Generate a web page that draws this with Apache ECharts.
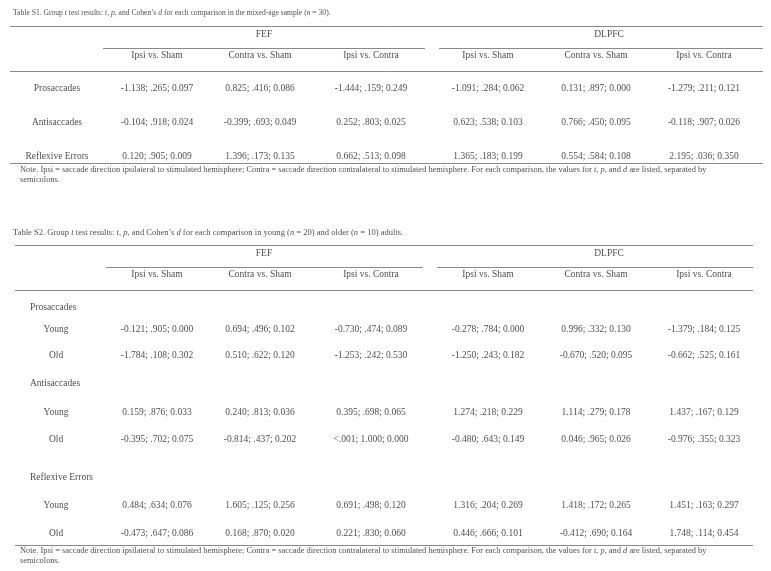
<!DOCTYPE html>
<html>
<head>
<meta charset="utf-8">
<script src="https://cdn.jsdelivr.net/npm/echarts@6/dist/echarts.min.js"></script>
<style>html,body{margin:0;padding:0;background:#fff;}#c{width:771px;height:571px;}</style>
</head>
<body>
<div id="c"></div>
<script>
// ---------- DATA ----------
var regions = ['FEF', 'DLPFC'];
var comparisons = ['Ipsi vs. Sham', 'Contra vs. Sham', 'Ipsi vs. Contra'];
var tasks = ['Prosaccades', 'Antisaccades', 'Reflexive Errors'];
var ageGroups = ['Young', 'Old'];

var s1Title = 'Table S1. Group {i|t} test results: {i|t}, {i|p}, and Cohen\u2019s {i|d} for each comparison in the mixed-age sample ({i|n} = 30).';
var s2Title = 'Table S2. Group {i|t} test results: {i|t}, {i|p}, and Cohen\u2019s {i|d} for each comparison in young ({i|n} = 20) and older ({i|n} = 10) adults.';
var noteLine1 = 'Note. Ipsi = saccade direction ipsilateral to stimulated hemisphere; Contra = saccade direction contralateral to stimulated hemisphere. For each comparison, the values for {i|t}, {i|p}, and {i|d} are listed, separated by';
var noteLine2 = 'semicolons.';

// Table S1: rows = tasks, cols = FEF(3 comparisons) then DLPFC(3 comparisons); "t; p; d"
var s1Prosaccades = ['-1.138; .265; 0.097', '0.825; .416; 0.086', '-1.444; .159; 0.249', '-1.091; .284; 0.062', '0.131; .897; 0.000', '-1.279; .211; 0.121'];
var s1Antisaccades = ['-0.104; .918; 0.024', '-0.399; .693; 0.049', '0.252; .803; 0.025', '0.623; .538; 0.103', '0.766; .450; 0.095', '-0.118; .907; 0.026'];
var s1Reflexive = ['0.120; .905; 0.009', '1.396; .173; 0.135', '0.662; .513; 0.098', '1.365; .183; 0.199', '0.554; .584; 0.108', '2.195; .036; 0.350'];

// Table S2
var s2ProYoung = ['-0.121; .905; 0.000', '0.694; .496; 0.102', '-0.730; .474; 0.089', '-0.278; .784; 0.000', '0.996; .332; 0.130', '-1.379; .184; 0.125'];
var s2ProOld = ['-1.784; .108; 0.302', '0.510; .622; 0.120', '-1.253; .242; 0.530', '-1.250; .243; 0.182', '-0.670; .520; 0.095', '-0.662; .525; 0.161'];
var s2AntiYoung = ['0.159; .876; 0.033', '0.240; .813; 0.036', '0.395; .698; 0.065', '1.274; .218; 0.229', '1.114; .279; 0.178', '1.437; .167; 0.129'];
var s2AntiOld = ['-0.395; .702; 0.075', '-0.814; .437; 0.202', '<.001; 1.000; 0.000', '-0.480; .643; 0.149', '0.046; .965; 0.026', '-0.976; .355; 0.323'];
var s2RefYoung = ['0.484; .634; 0.076', '1.605; .125; 0.256', '0.691; .498; 0.120', '1.316; .204; 0.269', '1.418; .172; 0.265', '1.451; .163; 0.297'];
var s2RefOld = ['-0.473; .647; 0.086', '0.168; .870; 0.020', '0.221; .830; 0.060', '0.446; .666; 0.101', '-0.412; .690; 0.164', '1.748; .114; 0.454'];

// ---------- LAYOUT (axis units = pixels) ----------
var FONT = 'Liberation Serif';
var TXT = '#1a1a1a';
var RULE = '#8a8a8a';
var BODY = 9.5, NOTE = 8.42;
var colX = [157, 260, 371, 488, 596, 704];
var regionX = [264, 609];

var L1 = { title: 13, titleSize: 7.6, top: 26, region: 34, sub: 48, head: 55, mid: 71, rows: [88, 122, 156], bottom: 163, n1: 170, n2: 180,
  left: 10, right: 763, subs: [[103, 425], [439, 763]], labelX: 57 };
var L2 = { title: 233, titleSize: 8.55, top: 245, region: 253, sub: 267, head: 274, mid: 290,
  groups: [307, 383, 477], groupRows: [[329, 355], [412, 439], [505, 533]], bottom: 545, n1: 551, n2: 561,
  left: 15, right: 753, subs: [[106, 423], [437, 753]], groupX: 30, labelX: 56 };

// ---------- BUILD ----------
function rich(size) {
  return {
    r: { fontFamily: FONT, fontSize: size, color: TXT },
    i: { fontFamily: FONT, fontSize: size, color: TXT, fontStyle: 'italic' }
  };
}
function wrapPlain(s) {
  var out = '', re = /\{i\|[^}]*\}/g, last = 0, m;
  while ((m = re.exec(s)) !== null) {
    if (m.index > last) out += '{r|' + s.slice(last, m.index) + '}';
    out += m[0];
    last = m.index + m[0].length;
  }
  if (last < s.length) out += '{r|' + s.slice(last) + '}';
  return out;
}
var texts = [];
function addText(x, y, str, size, align) {
  texts.push({
    value: [x, y],
    label: {
      show: true, position: [0, 0], align: align || 'center', verticalAlign: 'middle',
      formatter: wrapPlain(str), rich: rich(size)
    }
  });
}
var rules = [];
function addRule(x1, x2, y) { rules.push([x1, x2, y]); }

// Table S1
addText(L1.left + 3, L1.title, s1Title, L1.titleSize, 'left');
addRule(L1.left, L1.right, L1.top);
regions.forEach(function (r, i) { addText(regionX[i], L1.region, r, BODY); addRule(L1.subs[i][0], L1.subs[i][1], L1.sub); });
for (var k = 0; k < 6; k++) addText(colX[k], L1.head, comparisons[k % 3], BODY);
addRule(L1.left, L1.right, L1.mid);
[s1Prosaccades, s1Antisaccades, s1Reflexive].forEach(function (row, ri) {
  addText(L1.labelX, L1.rows[ri], tasks[ri], BODY);
  row.forEach(function (v, ci) { addText(colX[ci], L1.rows[ri], v, BODY); });
});
addRule(L1.left, L1.right, L1.bottom);
addText(L1.left + 10, L1.n1, noteLine1, NOTE, 'left');
addText(L1.left + 10, L1.n2, noteLine2, NOTE, 'left');

// Table S2
addText(L1.left + 3, L2.title, s2Title, L2.titleSize, 'left');
addRule(L2.left, L2.right, L2.top);
regions.forEach(function (r, i) { addText(regionX[i], L2.region, r, BODY); addRule(L2.subs[i][0], L2.subs[i][1], L2.sub); });
for (var k2 = 0; k2 < 6; k2++) addText(colX[k2], L2.head, comparisons[k2 % 3], BODY);
addRule(L2.left, L2.right, L2.mid);
var s2Data = [[s2ProYoung, s2ProOld], [s2AntiYoung, s2AntiOld], [s2RefYoung, s2RefOld]];
s2Data.forEach(function (grp, gi) {
  addText(L2.groupX, L2.groups[gi], tasks[gi], BODY, 'left');
  grp.forEach(function (row, ai) {
    var y = L2.groupRows[gi][ai];
    addText(L2.labelX, y, ageGroups[ai], BODY);
    row.forEach(function (v, ci) { addText(colX[ci], y, v, BODY); });
  });
});
addRule(L2.left, L2.right, L2.bottom);
addText(L2.left + 5, L2.n1, noteLine1, NOTE, 'left');
addText(L2.left + 5, L2.n2, noteLine2, NOTE, 'left');

var chart = echarts.init(document.getElementById('c'), null, { renderer: 'canvas' });
chart.setOption({
  backgroundColor: '#ffffff',
  animation: false,
  grid: { left: 0, right: 0, top: 0, bottom: 0 },
  xAxis: { type: 'value', min: 0, max: 771, show: false },
  yAxis: { type: 'value', min: 0, max: 571, inverse: true, show: false },
  series: [
    {
      type: 'custom',
      silent: true,
      data: rules,
      encode: { x: [0, 1], y: 2 },
      renderItem: function (params, api) {
        var a = api.coord([api.value(0), api.value(2)]);
        var b = api.coord([api.value(1), api.value(2)]);
        return {
          type: 'line',
          shape: { x1: a[0], y1: Math.round(a[1]) + 0.5, x2: b[0], y2: Math.round(b[1]) + 0.5 },
          style: { stroke: RULE, lineWidth: 1 }
        };
      }
    },
    {
      type: 'scatter',
      silent: true,
      symbolSize: 0,
      data: texts
    }
  ]
});
</script>
</body>
</html>
